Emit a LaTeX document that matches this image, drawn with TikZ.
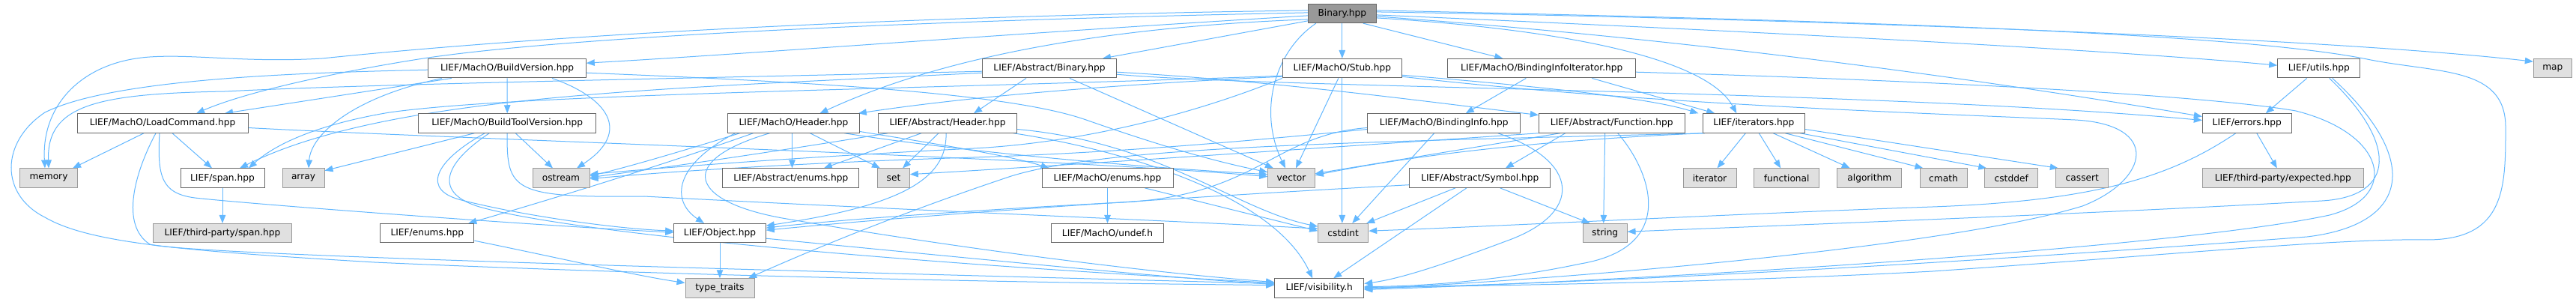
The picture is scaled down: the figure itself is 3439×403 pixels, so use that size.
\documentclass[tikz,border=0pt]{standalone}
\usepackage{fontspec}
\setmainfont{DejaVu Sans}
\usetikzlibrary{arrows.meta}
\definecolor{edgec}{HTML}{63B8FF}
\definecolor{extfill}{HTML}{E0E0E0}
\definecolor{extdraw}{HTML}{999999}
\definecolor{nodedraw}{HTML}{666666}
\definecolor{rootfill}{HTML}{999999}
\pgfdeclarelayer{bgl}
\pgfdeclarelayer{edgel}
\pgfsetlayers{bgl,edgel,main}
\begin{document}
\begin{tikzpicture}[x=1pt,y=-1pt,
  box/.style={draw=nodedraw, fill=white, line width=1pt, minimum height=25.5pt, inner sep=0pt, font=\fontsize{12.2pt}{14pt}\selectfont, text=black},
  ext/.style={box, draw=extdraw, fill=extfill},
  root/.style={box, fill=rootfill},
  e/.style={draw=edgec, line width=1pt, -{Triangle[length=11pt,width=8.5pt]}}]
\useasboundingbox (0,0) rectangle (3439,403);
\begin{pgfonlayer}{bgl}
\fill[white] (0,0) rectangle (3439,403);
\end{pgfonlayer}
% row 0
\node[root, minimum width=91pt] (B) at (1791.8,17.9) {Binary.hpp};
% row 1
\node[box, minimum width=210.6pt] (BV) at (677,91.2) {LIEF/MachO/BuildVersion.hpp};
\node[box, minimum width=178.6pt] (AB) at (1401,91.2) {LIEF/Abstract/Binary.hpp};
\node[box, minimum width=159pt] (ST) at (1791.8,91.2) {LIEF/MachO/Stub.hpp};
\node[box, minimum width=250.7pt] (BII) at (2058.3,91.2) {LIEF/MachO/BindingInfoIterator.hpp};
\node[box, minimum width=110pt] (UT) at (3095.7,91.2) {LIEF/utils.hpp};
\node[ext, minimum width=51pt] (MAP) at (3407.8,91.2) {map};
% row 2
\node[box, minimum width=228pt] (LC) at (217,164.5) {LIEF/MachO/LoadCommand.hpp};
\node[box, minimum width=237pt] (BTV) at (677.2,164.5) {LIEF/MachO/BuildToolVersion.hpp};
\node[box, minimum width=175.6pt] (MH) at (1059.5,164.5) {LIEF/MachO/Header.hpp};
\node[box, minimum width=185.4pt] (AH) at (1265,164.5) {LIEF/Abstract/Header.hpp};
\node[box, minimum width=204pt] (BI) at (1927.7,164.5) {LIEF/MachO/BindingInfo.hpp};
\node[box, minimum width=194.7pt] (FN) at (2151.7,164.5) {LIEF/Abstract/Function.hpp};
\node[box, minimum width=136pt] (IT) at (2341.3,164.5) {LIEF/iterators.hpp};
\node[box, minimum width=119pt] (ER) at (2999.8,164.5) {LIEF/errors.hpp};
% row 3
\node[ext, minimum width=77.4pt] (MEM) at (65,237.7) {memory};
\node[box, minimum width=112pt] (SP) at (297,237.7) {LIEF/span.hpp};
\node[ext, minimum width=56pt] (ARR) at (405,237.7) {array};
\node[ext, minimum width=76pt] (OST) at (749,237.7) {ostream};
\node[box, minimum width=182.3pt] (AEN) at (1055.8,237.7) {LIEF/Abstract/enums.hpp};
\node[ext, minimum width=42.6pt] (SET) at (1193,237.7) {set};
\node[box, minimum width=175pt] (MEN) at (1478.5,237.7) {LIEF/MachO/enums.hpp};
\node[ext, minimum width=62.6pt] (VEC) at (1724,237.7) {vector};
\node[box, minimum width=188.3pt] (SYM) at (1975.8,237.7) {LIEF/Abstract/Symbol.hpp};
\node[ext, minimum width=71pt] (ITR) at (2282.5,237.7) {iterator};
\node[ext, minimum width=87pt] (FUN) at (2385.2,237.7) {functional};
\node[ext, minimum width=85.7pt] (ALG) at (2495.8,237.7) {algorithm};
\node[ext, minimum width=63pt] (CM) at (2594.5,237.7) {cmath};
\node[ext, minimum width=71pt] (CD) at (2685.2,237.7) {cstddef};
\node[ext, minimum width=69.7pt] (CA) at (2779.8,237.7) {cassert};
\node[ext, minimum width=215pt] (EXP) at (3047.8,237.7) {LIEF/third-party/expected.hpp};
% row 4
\node[ext, minimum width=185.4pt] (TSP) at (297,311.2) {LIEF/third-party/span.hpp};
\node[box, minimum width=125.3pt] (ENU) at (570.3,311.2) {LIEF/enums.hpp};
\node[box, minimum width=122.6pt] (OBJ) at (961,311.2) {LIEF/Object.hpp};
\node[box, minimum width=150.4pt] (UND) at (1478.5,311.2) {LIEF/MachO/undef.h};
\node[ext, minimum width=67pt] (CSI) at (1793.2,311.2) {cstdint};
\node[ext, minimum width=58.7pt] (STR) at (2142.7,311.2) {string};
% row 5
\node[ext, minimum width=92pt] (TT) at (961,384.5) {type\_traits};
\node[box, minimum width=119pt] (VIS) at (1761.2,384.5) {LIEF/visibility.h};

\begin{pgfonlayer}{edgel}
% Binary.hpp
\draw[e] ([yshift=4pt]B.west) .. controls (1300,20) and (800,40) .. (430,78) .. controls (330,84) and (260,72) .. (200,76) .. controls (110,82) and (55,140) .. ([xshift=-5pt]MEM.north);
\draw[e] ([yshift=-3pt]B.west) .. controls (1300,48) and (1000,72) .. ([yshift=7pt]BV.east);
\draw[e] ([yshift=1pt]B.west) .. controls (1200,28) and (750,50) .. (565,78) .. controls (450,96) and (330,122) .. ([xshift=45pt]LC.north);
\draw[e] ([yshift=-8pt]B.west) .. controls (1500,35) and (1270,70) .. ([xshift=35pt]MH.north);
\draw[e] ([yshift=-10pt]B.west) -- ([xshift=71pt]AB.north);
\draw[e] ([xshift=-35pt]B.south) .. controls (1700,70) and (1680,150) .. ([xshift=-8pt]VEC.north);
\draw[e] (B.south) -- (ST.north);
\draw[e] ([xshift=28pt]B.south) -- ([xshift=-52pt]BII.north);
\draw[e] ([yshift=-6pt]B.east) .. controls (2100,40) and (2280,80) .. ([xshift=-23pt]IT.north);
\draw[e] ([yshift=-4pt]B.east) .. controls (2300,55) and (2700,115) .. ([yshift=9pt]ER.west);
\draw[e] ([yshift=-2pt]B.east) .. controls (2300,40) and (2800,65) .. ([yshift=4pt]UT.west);
\draw[e] ([yshift=2pt]B.east) .. controls (2400,25) and (3100,50) .. ([yshift=9pt]MAP.west);
\draw[e] ([yshift=4pt]B.east) .. controls (2500,28) and (3000,45) .. (3165,80) .. controls (3260,98) and (3345,90) .. (3345,170) .. controls (3345,250) and (3345,320) .. (3240,320) .. controls (3120,318) and (2900,340) .. (2580,362) .. controls (2300,377) and (2000,381) .. ([yshift=1pt]VIS.east);
% BuildVersion
\draw[e] ([xshift=-74pt]BV.south) -- ([xshift=83pt]LC.north);
\draw[e] (BV.south) -- (BTV.north);
\draw[e] ([xshift=-87pt]BV.south) .. controls (470,130) and (415,180) .. ([xshift=7pt]ARR.north);
\draw[e] ([xshift=60pt]BV.south) .. controls (810,130) and (845,175) .. ([xshift=21pt]OST.north);
\draw[e] ([yshift=-6pt]BV.east) .. controls (1100,110) and (1350,125) .. (1450,160) .. controls (1550,195) and (1620,215) .. ([yshift=8pt]VEC.west);
\draw[e] ([yshift=-2pt]BV.west) .. controls (400,97) and (150,105) .. (60,150) .. controls (0,190) and (0,260) .. (60,290) .. controls (120,325) and (250,335) .. (500,350) .. controls (900,368) and (1400,378) .. ([yshift=4pt]VIS.west);
% LoadCommand
\draw[e] ([xshift=-25pt]LC.south) -- ([xshift=32pt]MEM.north);
\draw[e] ([xshift=13pt]LC.south) -- ([xshift=-14pt]SP.north);
\draw[e] ([xshift=-9pt]LC.south) .. controls (180,230) and (160,300) .. (200,326) .. controls (260,342) and (1200,365) .. ([yshift=6pt]VIS.west);
\draw[e] ([xshift=-4pt]LC.south) .. controls (210,235) and (215,258) .. (260,264) .. controls (330,272) and (700,300) .. ([yshift=1pt]OBJ.west);
\draw[e] ([yshift=-6pt]LC.east) .. controls (600,185) and (1400,210) .. ([yshift=2pt]VEC.west);
\draw[e] (SP.south) -- (TSP.north);
% BuildToolVersion
\draw[e] ([xshift=-44pt]BTV.south) -- ([yshift=10pt]ARR.east);
\draw[e] ([xshift=11pt]BTV.south) -- ([xshift=-11pt]OST.north);
\draw[e] ([xshift=-30pt]BTV.south) .. controls (580,215) and (560,255) .. (620,268) .. controls (700,288) and (820,305) .. ([yshift=3pt]OBJ.west);
\draw[e] ([xshift=-24pt]BTV.south) .. controls (590,220) and (580,258) .. (640,276) .. controls (740,305) and (1100,345) .. ([yshift=7pt]VIS.west);
\draw[e] (BTV.south) .. controls (676,255) and (685,264) .. (860,262) .. controls (1200,280) and (1600,296) .. ([yshift=6pt]CSI.west);
% MachO/Header
\draw[e] ([xshift=-78pt]MH.south) .. controls (900,220) and (895,268) .. ([xshift=-21pt]OBJ.north);
\draw[e] ([xshift=-2pt]MH.south) -- ([xshift=1.7pt]AEN.north);
\draw[e] ([xshift=22pt]MH.south) -- ([xshift=-18pt]SET.north);
\draw[e] ([xshift=-54pt]MH.south) .. controls (900,215) and (750,262) .. ([xshift=55pt]ENU.north);
\draw[e] ([xshift=-72pt]MH.south) .. controls (900,205) and (830,225) .. ([yshift=3pt]OST.east);
\draw[e] ([xshift=-32pt]MH.south) .. controls (900,215) and (920,270) .. (1050,292) .. controls (1300,335) and (1550,365) .. ([yshift=8pt]VIS.west);
\draw[e] ([yshift=-11pt]MH.east) .. controls (1250,192) and (1350,208) .. ([xshift=-78pt]MEN.north);
\draw[e] ([xshift=68pt]MH.south) .. controls (1300,205) and (1550,225) .. ([yshift=5pt]VEC.west);
% Abstract/Header
\draw[e] ([xshift=-35pt]AH.south) -- ([xshift=44pt]AEN.north);
\draw[e] ([xshift=-12pt]AH.south) -- ([xshift=12pt]SET.north);
\draw[e] ([xshift=-2pt]AH.south) .. controls (1265,240) and (1200,275) .. ([yshift=10pt]OBJ.east);
\draw[e] ([xshift=-80pt]AH.south) .. controls (1050,200) and (900,222) .. ([yshift=1pt]OST.east);
\draw[e] ([xshift=88pt]AH.south) .. controls (1500,200) and (1700,260) .. ([xshift=-9pt]VIS.north);
\draw[e] ([yshift=-8pt]AH.east) .. controls (1550,190) and (1650,280) .. ([yshift=9pt]CSI.west);
% Abstract/Binary
\draw[e] ([xshift=-31pt]AB.south) -- ([xshift=35pt]AH.north);
\draw[e] ([xshift=27pt]AB.south) -- ([xshift=-24pt]VEC.north);
\draw[e] ([yshift=-4pt]AB.west) .. controls (900,105) and (500,112) .. (300,122) .. controls (130,125) and (62,140) .. (MEM.north);
\draw[e] ([yshift=-6pt]AB.west) .. controls (900,118) and (520,125) .. ([xshift=23pt]SP.north);
\draw[e] ([yshift=-5pt]AB.east) .. controls (1700,108) and (1900,135) .. ([yshift=11pt]FN.west);
\draw[e] ([yshift=-8pt]AB.east) .. controls (1700,118) and (2500,120) .. ([yshift=4pt]ER.west);
% Stub
\draw[e] ([xshift=-5pt]ST.south) -- ([xshift=6pt]VEC.north);
\draw[e] (ST.south) -- ([xshift=-1.4pt]CSI.north);
\draw[e] ([yshift=-9pt]ST.east) .. controls (2050,115) and (2200,130) .. ([xshift=-74pt]IT.north);
\draw[e] ([yshift=-10pt]ST.west) .. controls (1200,120) and (700,125) .. (520,150) .. controls (430,165) and (370,190) .. ([xshift=35pt]SP.north);
\draw[e] ([yshift=-11pt]ST.west) .. controls (1500,112) and (1300,128) .. ([xshift=-2pt]MH.north east);
\draw[e] ([yshift=-11pt]ST.east) .. controls (2200,140) and (2600,152) .. (2770,160) .. controls (2885,166) and (2870,240) .. (2780,275) .. controls (2600,330) and (2100,372) .. ([yshift=-1pt]VIS.east);
\draw[e] (ST.south west) .. controls (1600,150) and (1450,190) .. (1300,198) .. controls (1100,208) and (900,222) .. ([yshift=5pt]OST.east);
% BindingInfoIterator
\draw[e] ([xshift=-21pt]BII.south) -- ([xshift=29pt]BI.north);
\draw[e] ([xshift=67pt]BII.south) -- ([xshift=-52pt]IT.north);
\draw[e] ([yshift=-5pt]BII.east) .. controls (2600,108) and (2950,128) .. (3065,148) .. controls (3185,178) and (3205,262) .. (3110,287) .. controls (2900,332) and (2200,374) .. ([yshift=-2pt]VIS.east);
% BindingInfo
\draw[e] ([xshift=-13pt]BI.south) -- ([xshift=12pt]CSI.north);
\draw[e] ([xshift=72pt]BI.south) .. controls (2110,215) and (2115,285) .. (2010,322) .. controls (1930,352) and (1870,372) .. ([yshift=6pt]VIS.east);
\draw[e] ([yshift=-6pt]BI.west) .. controls (1700,180) and (1680,260) .. (1500,270) .. controls (1300,280) and (1100,295) .. ([yshift=7pt]OBJ.east);
\draw[e] ([yshift=-8pt]BI.west) .. controls (1600,195) and (1450,205) .. (1300,210) .. controls (1100,216) and (900,228) .. ([yshift=-1pt]OST.east);
% Function
\draw[e] ([xshift=-62pt]FN.south) -- ([xshift=34pt]SYM.north);
\draw[e] ([xshift=-9pt]FN.south) -- ([xshift=-2pt]STR.north);
\draw[e] ([xshift=-69pt]FN.south) -- ([yshift=6pt]VEC.east);
\draw[e] ([xshift=8pt]FN.south) .. controls (2205,230) and (2240,330) .. (2110,352) .. controls (2000,375) and (1900,382) .. ([yshift=2pt]VIS.east);
\draw[e] (FN.south west) .. controls (1800,195) and (1400,222) .. ([yshift=5pt]SET.east);
% iterators
\draw[e] ([xshift=-11pt]IT.south) -- ([xshift=10pt]ITR.north);
\draw[e] ([xshift=7pt]IT.south) -- ([xshift=-8pt]FUN.north);
\draw[e] ([xshift=26pt]IT.south) -- ([xshift=-26pt]ALG.north);
\draw[e] ([xshift=42pt]IT.south) -- ([xshift=-27pt]CM.north);
\draw[e] ([xshift=62pt]IT.south) -- ([xshift=-33pt]CD.north);
\draw[e] ([yshift=-8pt]IT.east) -- ([xshift=-32pt]CA.north);
\draw[e] (IT.south west) .. controls (2000,190) and (1850,215) .. ([yshift=4pt]VEC.east);
\draw[e] ([xshift=3pt]IT.south west) .. controls (1800,190) and (1480,195) .. (1350,235) .. controls (1200,285) and (1080,335) .. ([xshift=38pt]TT.north);
% Symbol
\draw[e] ([xshift=-33pt]SYM.south) -- ([xshift=-3pt]CSI.north east);
\draw[e] ([xshift=-18pt]SYM.south) -- ([xshift=19pt]VIS.north);
\draw[e] ([xshift=27pt]SYM.south) -- ([xshift=-20pt]STR.north);
\draw[e] ([yshift=-9pt]SYM.west) .. controls (1600,262) and (1250,285) .. ([yshift=4pt]OBJ.east);
% others
\draw[e] (MEN.south) -- (UND.north);
\draw[e] ([xshift=50pt]MEN.south) -- ([yshift=3pt]CSI.west);
\draw[e] (OBJ.south) -- (TT.north);
\draw[e] ([yshift=-7pt]OBJ.east) .. controls (1300,345) and (1550,370) .. ([yshift=5pt]VIS.west);
\draw[e] ([yshift=-10pt]ENU.east) .. controls (750,345) and (850,368) .. ([yshift=7pt]TT.west);
\draw[e] ([xshift=13pt]ER.south) -- ([xshift=-8pt]EXP.north);
\draw[e] ([xshift=-15pt]ER.south) .. controls (2900,235) and (2800,268) .. (2580,276) .. controls (2300,286) and (2000,302) .. ([yshift=3pt]CSI.east);
\draw[e] ([xshift=-16pt]UT.south) -- ([xshift=25pt]ER.north);
\draw[e] ([xshift=14pt]UT.south) .. controls (3200,190) and (3200,262) .. (3100,268) .. controls (2800,285) and (2400,300) .. ([yshift=2pt]STR.east);
\draw[e] ([xshift=18pt]UT.south) .. controls (3235,215) and (3215,300) .. (3080,316) .. controls (2700,345) and (2200,376) .. (VIS.east);
\end{pgfonlayer}
\end{tikzpicture}
\end{document}
